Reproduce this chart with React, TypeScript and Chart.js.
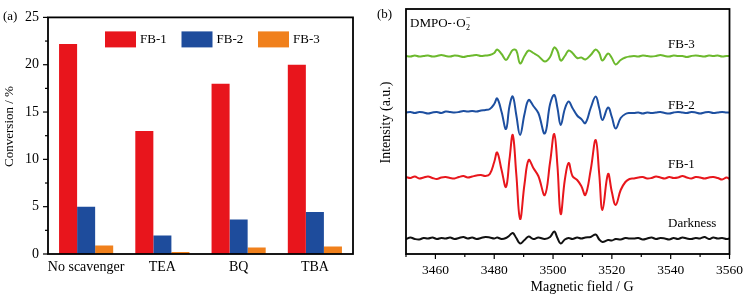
import React, { useEffect, useRef } from "react";
import { Chart, registerables } from "chart.js";

Chart.register(...registerables);

const SERIF = "'Liberation Serif', 'Times New Roman', Times, serif";

// ---------- Panel (a): scavenger experiment ----------
const scavengers = ["No scavenger", "TEA", "BQ", "TBA"];
const fb1Conversion = [22.2, 13.0, 18.0, 20.0];
const fb2Conversion = [5.0, 1.95, 3.65, 4.45];
const fb3Conversion = [0.9, 0.2, 0.7, 0.8];
const conversionTicks = [0, 5, 10, 15, 20, 25];
const barLabels = ["FB-1", "FB-2", "FB-3"];
const barColors = ["#e8151c", "#1e4c9c", "#f0801c"];

// ---------- Panel (b): EPR spectra ----------
const fieldG = [
  3450, 3451.5, 3453, 3454.5, 3456, 3457.5, 3459, 3460.5, 3462, 3463.5, 3465, 3466.5, 3468, 3469.5, 3471, 3472.5, 3474, 3475.5, 3477, 3478.5,
  3480, 3481, 3482.5, 3484, 3485.2, 3486.3, 3487.5, 3488.8, 3490.3, 3491.7, 3493.3, 3495, 3497.2, 3499, 3500.4, 3501.5, 3502.6, 3504, 3505.3, 3506.6, 3508.2, 3509.6, 3511, 3512.8, 3514.5, 3515.7, 3516.8, 3518.7, 3520, 3521.3, 3523, 3524.6, 3526,
  3527.5, 3529, 3530.5, 3532, 3533.5, 3535, 3536.5, 3538, 3539.5, 3541, 3542.5, 3544, 3545.5, 3547, 3548.5, 3550, 3551.5, 3553, 3554.5, 3556, 3557.5, 3559, 3560,
];
const fb3Spectrum = [
  198, 197.5, 198.5, 197.5, 198, 198.5, 197.5, 198, 199, 198, 197.5, 198.5, 198, 197, 198, 198.5, 199, 198, 198.5, 199,
  201, 204.5, 200, 194, 199, 204, 203.5, 190.5, 198, 203.5, 201, 198, 192.5, 197, 206.5, 203, 193.5, 198, 203.5, 201, 196, 196.5, 194.5, 199, 204.5, 201, 193.5, 200.5, 196, 189.5, 194, 196.5, 197.5,
  198, 197.5, 198.5, 198, 197.5, 198, 199, 198, 197.5, 198.5, 198, 198, 197, 198, 198.5, 198, 197.5, 198.5, 198, 198.5, 197.5, 198, 198,
];
const fb2Spectrum = [
  141.5, 142, 141, 142, 141.5, 140.5, 141.5, 142, 141, 142.5, 142, 141.5, 142, 143, 142.5, 143, 142.5, 143.5, 144, 145,
  150, 155.5, 142, 125, 148, 157.5, 139, 119, 140, 154, 148, 141, 120.5, 150, 159, 146, 129, 145, 152.5, 146, 138.5, 135, 131, 146, 157.5, 146, 134, 146.5, 137, 125.5, 136, 140, 141,
  141, 141.5, 140.5, 141.5, 141, 141.5, 142, 141, 140.5, 141.5, 142, 141.5, 141, 142, 141.5, 140.5, 141.5, 142, 141, 141.5, 142, 141.5, 141.5,
];
const fb1Spectrum = [
  77, 76, 77.5, 75.5, 76.5, 77.5, 76, 75, 76.5, 77, 76, 75.5, 77, 78, 76.5, 77.5, 78.5, 79, 78, 80,
  92, 101.5, 84, 67, 95, 119, 80, 35, 70, 94, 86, 78, 59, 92, 120, 88, 40, 74, 91, 78, 74, 68, 59, 84, 114, 80, 44, 80, 62, 49, 64, 72, 75,
  75.5, 76.5, 77, 75.5, 76, 77.5, 76.5, 75.5, 77, 76, 76.5, 78, 76.5, 75.5, 77, 76.5, 75.5, 76.5, 77, 76, 74.5, 76.5, 75,
];
const darknessSpectrum = [
  15, 16.5, 15, 14.5, 16, 15.5, 16.5, 15, 16, 15.5, 16.5, 15, 16, 17, 15.5, 16.5, 15, 16, 17, 16.5,
  15.5, 16.5, 15, 16, 18.5, 21, 16, 10.5, 14, 17.5, 15, 16.5, 15, 17, 22.5, 16, 10.5, 14.5, 16, 15, 16.5, 15.5, 16.5, 17, 19.5, 14.5, 12, 14, 13.5, 15, 14.5, 16, 15.5,
  15.5, 16, 14.5, 15.5, 16.5, 15, 16, 15.5, 14.5, 16, 15, 16.5, 15.5, 15, 16, 15.5, 17, 15, 16.5, 15.5, 16, 15, 15.5,
];
const fieldTicks = [3450, 3460, 3470, 3480, 3490, 3500, 3510, 3520, 3530, 3540, 3550, 3560];
const spectrumLabels = ["FB-3", "FB-2", "FB-1", "Darkness"];
const spectrumColors = ["#6cb92d", "#1d4fa0", "#e8161c", "#111111"];

Chart.defaults.font.family = SERIF;
Chart.defaults.color = "#000";

function rotatedText(ctx: CanvasRenderingContext2D, text: string, cx: number, cy: number, size: number) {
  ctx.save();
  ctx.translate(cx, cy);
  ctx.rotate(-Math.PI / 2);
  ctx.font = `${size}px ${SERIF}`;
  ctx.textAlign = "center";
  ctx.textBaseline = "middle";
  ctx.fillStyle = "#000";
  ctx.fillText(text, 0, 0);
  ctx.restore();
}

const panelAPlugin = {
  id: "panelA",
  afterDraw(chart: any) {
    const { ctx, chartArea: a } = chart;
    const ys = chart.scales.y;
    ctx.save();
    ctx.strokeStyle = "#000";
    ctx.lineWidth = 1.2;
    for (let i = 0; i < conversionTicks.length; i++) {
      let py = ys.getPixelForValue(conversionTicks[i]);
      ctx.beginPath();
      ctx.moveTo(a.left - 5, py);
      ctx.lineTo(a.left, py);
      ctx.stroke();
      if (i < conversionTicks.length - 1) {
        py = ys.getPixelForValue((conversionTicks[i] + conversionTicks[i + 1]) / 2);
        ctx.beginPath();
        ctx.moveTo(a.left - 3, py);
        ctx.lineTo(a.left, py);
        ctx.stroke();
      }
    }
    ctx.lineWidth = 1.8;
    ctx.strokeRect(a.left, a.top, a.right - a.left, a.bottom - a.top);
    // legend inside plot
    ctx.font = `13px ${SERIF}`;
    ctx.textBaseline = "middle";
    ctx.textAlign = "left";
    const ds = chart.data.datasets;
    for (let i = 0; i < ds.length; i++) {
      const x = a.left + 57 + i * 76.5;
      ctx.fillStyle = ds[i].backgroundColor;
      ctx.fillRect(x, a.top + 14, 31, 16);
      ctx.fillStyle = "#000";
      ctx.fillText(ds[i].label, x + 35, a.top + 22.5);
    }
    ctx.fillText("(a)", 3, 17);
    ctx.restore();
    rotatedText(ctx, "Conversion / %", 10, 126.5, 13);
  },
};

const panelBPlugin = {
  id: "panelB",
  afterDraw(chart: any) {
    const { ctx, chartArea: a } = chart;
    const xs = chart.scales.x;
    ctx.save();
    ctx.strokeStyle = "#000";
    ctx.lineWidth = 1.2;
    fieldTicks.forEach((v) => {
      const px = xs.getPixelForValue(v);
      const major = (v - fieldTicks[1]) % 20 === 0;
      ctx.beginPath();
      ctx.moveTo(px, a.bottom);
      ctx.lineTo(px, a.bottom + (major ? 5 : 3));
      ctx.stroke();
    });
    ctx.lineWidth = 1.8;
    ctx.strokeRect(a.left, a.top, a.right - a.left, a.bottom - a.top);

    ctx.fillStyle = "#000";
    ctx.textBaseline = "middle";
    ctx.textAlign = "left";
    ctx.font = `13px ${SERIF}`;
    const labelX = a.left + 262;
    const labelY = [45, 106, 165, 224];
    spectrumLabels.forEach((t, i) => ctx.fillText(t, labelX, labelY[i]));
    ctx.fillText("(b)", 7, 15);
    // DMPO-·O2^-
    const base = "DMPO-\u00B7O";
    ctx.fillText(base, a.left + 4, 24);
    const w = ctx.measureText(base).width;
    ctx.font = `8px ${SERIF}`;
    ctx.fillText("2", a.left + 4 + w + 0.5, 28);
    ctx.fillText("\u2212", a.left + 4 + w + 0.5, 18);
    // x title
    ctx.font = `14px ${SERIF}`;
    ctx.textAlign = "center";
    ctx.fillText("Magnetic field / G", 212, 287);
    ctx.restore();
    rotatedText(ctx, "Intensity (a.u.)", 16, 122.5, 14);
  },
};

export default function App() {
  const refA = useRef<HTMLCanvasElement>(null);
  const refB = useRef<HTMLCanvasElement>(null);

  useEffect(() => {
    const chartA = new Chart(refA.current as HTMLCanvasElement, {
      type: "bar",
      data: {
        labels: scavengers,
        datasets: [fb1Conversion, fb2Conversion, fb3Conversion].map((d, i) => ({
          label: barLabels[i],
          data: d,
          backgroundColor: barColors[i],
          borderWidth: 0,
          categoryPercentage: 0.71,
          barPercentage: 1,
        })),
      },
      options: {
        responsive: false,
        animation: false,
        layout: { padding: { top: 10, right: 17, left: 0, bottom: 0 } },
        plugins: { legend: { display: false }, tooltip: { enabled: false } },
        scales: {
          x: {
            grid: { display: false, drawTicks: false },
            border: { display: false },
            ticks: { font: { size: 14 }, padding: 5, color: "#000", maxRotation: 0, autoSkip: false },
            afterFit: (s: any) => {
              s.height = 44;
            },
          },
          y: {
            min: 0,
            max: 25,
            grid: { display: false, drawTicks: false },
            border: { display: false },
            ticks: { stepSize: 5, font: { size: 14 }, padding: 9, color: "#000" },
            afterFit: (s: any) => {
              s.width = 48;
            },
          },
        },
      },
      plugins: [panelAPlugin],
    } as any);

    const series = [fb3Spectrum, fb2Spectrum, fb1Spectrum, darknessSpectrum];
    const chartB = new Chart(refB.current as HTMLCanvasElement, {
      type: "line",
      data: {
        datasets: series.map((s, i) => ({
          label: spectrumLabels[i],
          data: fieldG.map((x, k) => ({ x, y: s[k] })),
          borderColor: spectrumColors[i],
          borderWidth: 2,
          pointRadius: 0,
          fill: false,
          tension: 0.4,
        })),
      },
      options: {
        responsive: false,
        animation: false,
        layout: { padding: { top: 9, right: 15, left: 0, bottom: 0 } },
        plugins: { legend: { display: false }, tooltip: { enabled: false } },
        scales: {
          x: {
            type: "linear",
            min: 3450,
            max: 3560,
            grid: { display: false, drawTicks: false },
            border: { display: false },
            ticks: {
              stepSize: 10,
              font: { size: 13.5 },
              padding: 8,
              color: "#000",
              maxRotation: 0,
              autoSkip: false,
              callback: (v: any) => ((Number(v) - fieldTicks[1]) % 20 === 0 ? String(v) : ""),
            },
            afterFit: (s: any) => {
              s.height = 44;
            },
          },
          y: {
            min: 0,
            max: 245,
            grid: { display: false, drawTicks: false },
            border: { display: false },
            ticks: { display: false },
            afterFit: (s: any) => {
              s.width = 36;
            },
          },
        },
      },
      plugins: [panelBPlugin],
    } as any);

    return () => {
      chartA.destroy();
      chartB.destroy();
    };
  }, []);

  return (
    <div style={{ position: "absolute", left: 0, top: 0, width: 751, height: 298, background: "#fff" }}>
      <canvas ref={refA} width={370} height={298} style={{ position: "absolute", left: 0, top: 0 }} />
      <canvas ref={refB} width={381} height={298} style={{ position: "absolute", left: 370, top: 0 }} />
    </div>
  );
}
